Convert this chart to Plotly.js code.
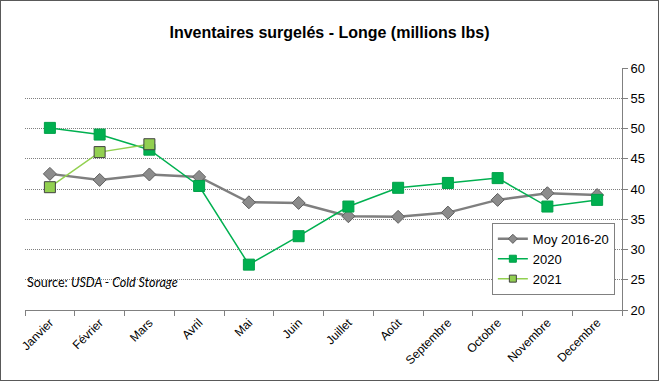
<!DOCTYPE html>
<html><head><meta charset="utf-8">
<script src="https://cdn.plot.ly/plotly-3.0.1.min.js"></script>
<style>
html,body{margin:0;padding:0;background:#fff;}
#wrap{position:relative;width:659px;height:381px;}
#chart{position:absolute;left:0;top:0;width:659px;height:381px;}
#frame{position:absolute;left:0;top:0;width:659px;height:381px;box-sizing:border-box;border:1px solid #595959;pointer-events:none;}
</style></head>
<body>
<div id="wrap"><div id="chart"></div><div id="frame"></div></div>
<script>
const months = ["Janvier","Février","Mars","Avril","Mai","Juin","Juillet","Août","Septembre","Octobre","Novembre","Decembre"];
const moy = [42.5, 41.5, 42.4, 42.0, 37.8, 37.7, 35.5, 35.4, 36.1, 38.2, 39.3, 39.0];
const y2020 = [50.1, 49.0, 46.5, 40.5, 27.5, 32.2, 37.1, 40.2, 41.0, 41.8, 37.1, 38.2];
const y2021 = [40.3, 46.1, 47.4];
const yTicks = [20,25,30,35,40,45,50,55,60];

const styles = [
  {name: "Moy 2016-20", line: {color: "#7F7F7F", width: 2.5}, sym: "diamond", fill: "#8C8C8C", edge: "#5F5F5F", size: 10},
  {name: "2020", line: {color: "#00B050", width: 1.5}, sym: "square", fill: "#00B050", edge: "#00A048", size: 11},
  {name: "2021", line: {color: "#92D050", width: 1.5}, sym: "square", fill: "#92D050", edge: "#404040", size: 11}
];
const series = [moy, y2020, y2021];

const traces = [];
series.forEach((vals, i) => {
  const s = styles[i];
  traces.push({x: months.slice(0, vals.length), y: vals, name: s.name, type: "scatter", mode: "lines+markers",
    showlegend: false, line: s.line,
    marker: {symbol: s.sym, size: s.size, color: s.fill, line: {color: s.edge, width: 1}}});
});
series.forEach((vals, i) => {
  const s = styles[i];
  traces.push({x: [months[0]], y: [null], name: s.name, type: "scatter", mode: "lines+markers",
    showlegend: true, line: s.line,
    marker: {symbol: s.sym, size: 7, color: s.fill, line: {color: s.edge, width: 1}}});
});

const layout = {
  width: 659, height: 381,
  margin: {l: 25, r: 37, t: 68, b: 71},
  paper_bgcolor: "#fff", plot_bgcolor: "#fff",
  font: {family: "Arial, Liberation Sans, sans-serif", color: "#000"},
  title: {text: "<b>Inventaires surgelés - Longe (millions lbs)</b>", x: 0.5, xanchor: "center", y: 0.915, yanchor: "middle",
          font: {size: 16, family: "Arial, Liberation Sans, sans-serif", color: "#000"}},
  xaxis: {type: "category", tickangle: -45, tickfont: {size: 12},
          showline: true, linecolor: "#808080", linewidth: 1,
          ticks: "outside", tickson: "boundaries", ticklen: 5, tickcolor: "#808080",
          showgrid: false, range: [-0.5, 11.5], fixedrange: true},
  yaxis: {side: "right", range: [20, 60], tickvals: yTicks, tickfont: {size: 13},
          showline: true, linecolor: "#808080", linewidth: 1,
          ticks: "outside", ticklen: 5, tickcolor: "#808080",
          showgrid: true, gridcolor: "#7F7F7F", griddash: "1px,1px", gridwidth: 1,
          zeroline: false},
  legend: {x: 0.782, y: 0.36, xanchor: "left", yanchor: "top",
           bgcolor: "#fff", bordercolor: "#808080", borderwidth: 1,
           font: {size: 13}, tracegroupgap: 4},
  annotations: [{xref: "paper", yref: "y", x: 0.0, y: 24.6, xanchor: "left", yanchor: "middle",
     showarrow: false, text: "Source: <i>USDA - Cold Storage</i>",
     font: {size: 12.5, family: "Lato, Open Sans, sans-serif", color: "#000"}}],
  showlegend: true
};
Plotly.newPlot("chart", traces, layout, {displayModeBar: false, staticPlot: true});
</script>
</body></html>
